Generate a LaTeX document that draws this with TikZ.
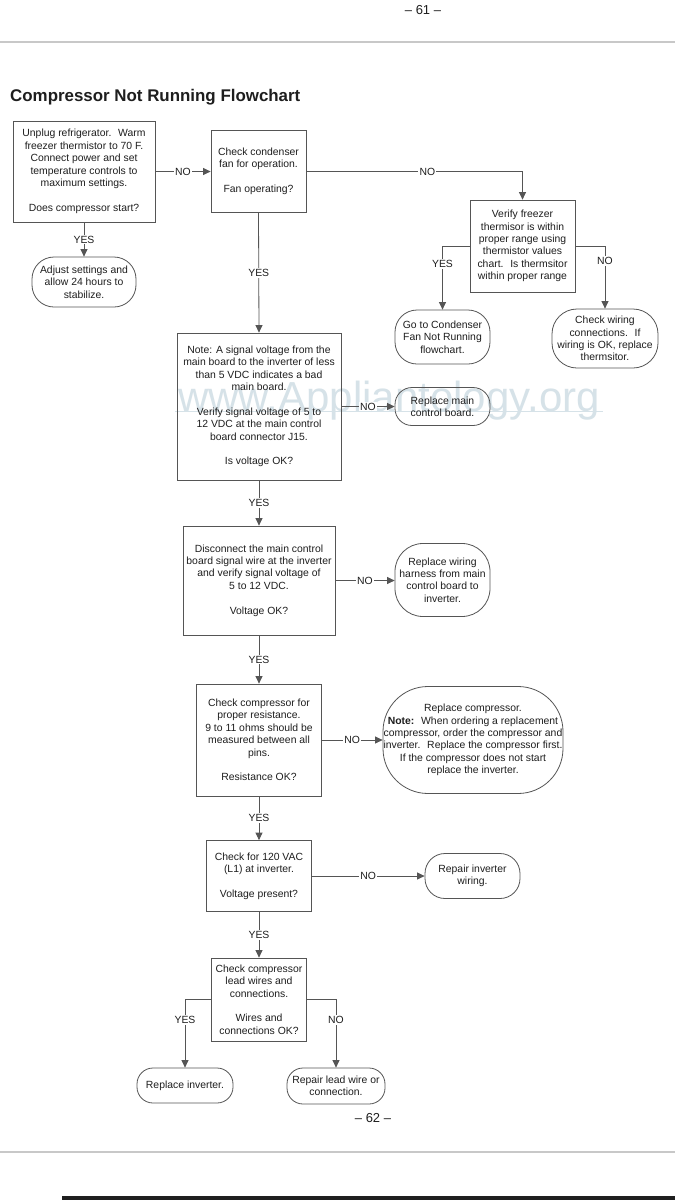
\documentclass[tikz,border=0pt]{standalone}
\usepackage{fontspec}
\setmainfont{Liberation Sans}
\usetikzlibrary{arrows.meta}
\definecolor{ln}{RGB}{85,85,85}
\definecolor{txt}{RGB}{30,30,30}
\definecolor{wm}{RGB}{214,226,232}
\definecolor{rulec}{RGB}{200,200,200}
\begin{document}
\begin{tikzpicture}[x=1pt,y=-1pt,
  every node/.style={font=\fontsize{10.4}{12.4}\selectfont, text=txt},
  box/.style={draw=ln, line width=0.8pt, align=center, inner sep=0pt},
  term/.style={box, rounded corners=#1},
  term/.default=20pt,
  conn/.style={draw=ln, line width=0.8pt, -{Triangle[length=7.5pt,width=7pt]}},
  lab/.style={fill=white, inner sep=1.2pt, text=txt}
]
\useasboundingbox (0,0) rectangle (675,1200);
\fill[white] (0,0) rectangle (675,1200);

% page furniture
\node[font=\fontsize{13}{15}\selectfont, inner sep=0] (p61) at (423,10) {– 61 –};
\draw[rulec, line width=2pt] (0,42) -- (675,42);
\node[anchor=base west, font=\bfseries\fontsize{16.9}{19}\selectfont, inner sep=0] (title) at (10,101) {Compressor Not Running Flowchart};
\node[font=\fontsize{13}{15}\selectfont, inner sep=0] (p62) at (373,1118) {– 62 –};
\draw[rulec, line width=2pt] (0,1152) -- (675,1152);
\fill[black!88] (62,1196) rectangle (675,1200);

% watermark
\node[text=wm, font=\fontsize{42}{42}\selectfont, anchor=base, inner sep=0] (wmk) at (389,411) {www.Appliantology.org};
\draw[wm, line width=0.6pt] (175,411) -- (603,411);

% nodes
\node[box, minimum width=142pt, minimum height=101pt] (b1) at (84,171.5)
 {Unplug refrigerator.~ Warm\\freezer thermistor to 70 F.\\Connect power and set\\temperature controls to\\maximum settings.\\[12.4pt]Does compressor start?};
\node[box, minimum width=95pt, minimum height=82pt] (b2) at (258.5,171.5)
 {Check condenser\\fan for operation.\\[12.4pt]Fan operating?};
\node[term=22pt, minimum width=104pt, minimum height=50pt] (o1) at (84,282)
 {Adjust settings and\\allow 24 hours to\\stabilize.};
\node[box, minimum width=105pt, minimum height=92pt] (b3) at (522.5,246)
 {Verify freezer\\thermisor is within\\proper range using\\thermistor values\\chart.~ Is thermsitor\\within proper range};
\node[term=22pt, minimum width=95pt, minimum height=54pt] (o2) at (442.5,337)
 {Go to Condenser\\Fan Not Running\\flowchart.};
\node[term=25pt, minimum width=106pt, minimum height=59pt] (o3) at (605,338.5)
 {Check wiring\\connections.~ If\\wiring is OK, replace\\thermsitor.};
\node[box, minimum width=164pt, minimum height=147pt] (b4) at (259,406.5)
 {Note: A signal voltage from the\\main board to the inverter of less\\than 5 VDC indicates a bad\\main board.\\[12.4pt]Verify signal voltage of 5 to\\12 VDC at the main control\\board connector J15.\\[12.4pt]Is voltage OK?};
\node[term=17pt, minimum width=95pt, minimum height=38pt] (o4) at (442.5,406.5)
 {Replace main\\control board.};
\node[box, minimum width=152pt, minimum height=109pt] (b5) at (259,580.5)
 {Disconnect the main control\\board signal wire at the inverter\\and verify signal voltage of\\5 to 12 VDC.\\[12.4pt]Voltage OK?};
\node[term=28pt, minimum width=95pt, minimum height=73pt] (o5) at (442.5,580)
 {Replace wiring\\harness from main\\control board to\\inverter.};
\node[box, minimum width=125pt, minimum height=112pt] (b6) at (259,740)
 {Check compressor for\\proper resistance.\\9 to 11 ohms should be\\measured between all\\pins.\\[12.4pt]Resistance OK?};
\node[term=45pt, minimum width=180pt, minimum height=107pt] (o6) at (473,740)
 {Replace compressor.\\\textbf{Note:}~ When ordering a replacement\\compressor, order the compressor and\\inverter.~ Replace the compressor first.\\If the compressor does not start\\replace the inverter.};
\node[box, minimum width=105pt, minimum height=71pt] (b7) at (259,876)
 {Check for 120 VAC\\(L1) at inverter.\\[12.4pt]Voltage present?};
\node[term=20pt, minimum width=95pt, minimum height=45pt] (o7) at (472.5,876)
 {Repair inverter\\wiring.};
\node[box, minimum width=95pt, minimum height=83pt] (b8) at (259,999.5)
 {Check compressor\\lead wires and\\connections.\\[12.4pt]Wires and\\connections OK?};
\node[term=16pt, minimum width=96pt, minimum height=35pt] (o8) at (185,1085.5)
 {Replace inverter.};
\node[term=16pt, minimum width=98pt, minimum height=36pt] (o9) at (336,1086)
 {Repair lead wire or\\connection.};

% connectors
\draw[conn] (b1.east) -- node[lab]{NO} (b2.west|-b1.east);
\draw[conn] (b1.south) -- node[lab]{YES} (o1.north);
\draw[conn] (b2.east) -| node[lab,pos=0.28]{NO} (b3.north);
\draw[conn] (b2.south) -- node[lab]{YES} (b4.north);
\draw[conn] (b3.west) -| node[lab,pos=0.64]{YES} (o2.north);
\draw[conn] (b3.east) -| node[lab,pos=0.62]{NO} (o3.north);
\draw[conn] (b4.east) -- node[lab]{NO} (o4.west|-b4.east);
\draw[conn] (b4.south) -- node[lab]{YES} (b5.north);
\draw[conn] (b5.east) -- node[lab]{NO} (o5.west|-b5.east);
\draw[conn] (b5.south) -- node[lab]{YES} (b6.north);
\draw[conn] (b6.east) -- node[lab]{NO} (o6.west|-b6.east);
\draw[conn] (b6.south) -- node[lab]{YES} (b7.north);
\draw[conn] (b7.east) -- node[lab]{NO} (o7.west|-b7.east);
\draw[conn] (b7.south) -- node[lab]{YES} (b8.north);
\draw[conn] (b8.west) -| node[lab,pos=0.65]{YES} (o8.north);
\draw[conn] (b8.east) -| node[lab,pos=0.65]{NO} (o9.north);
\end{tikzpicture}
\end{document}
